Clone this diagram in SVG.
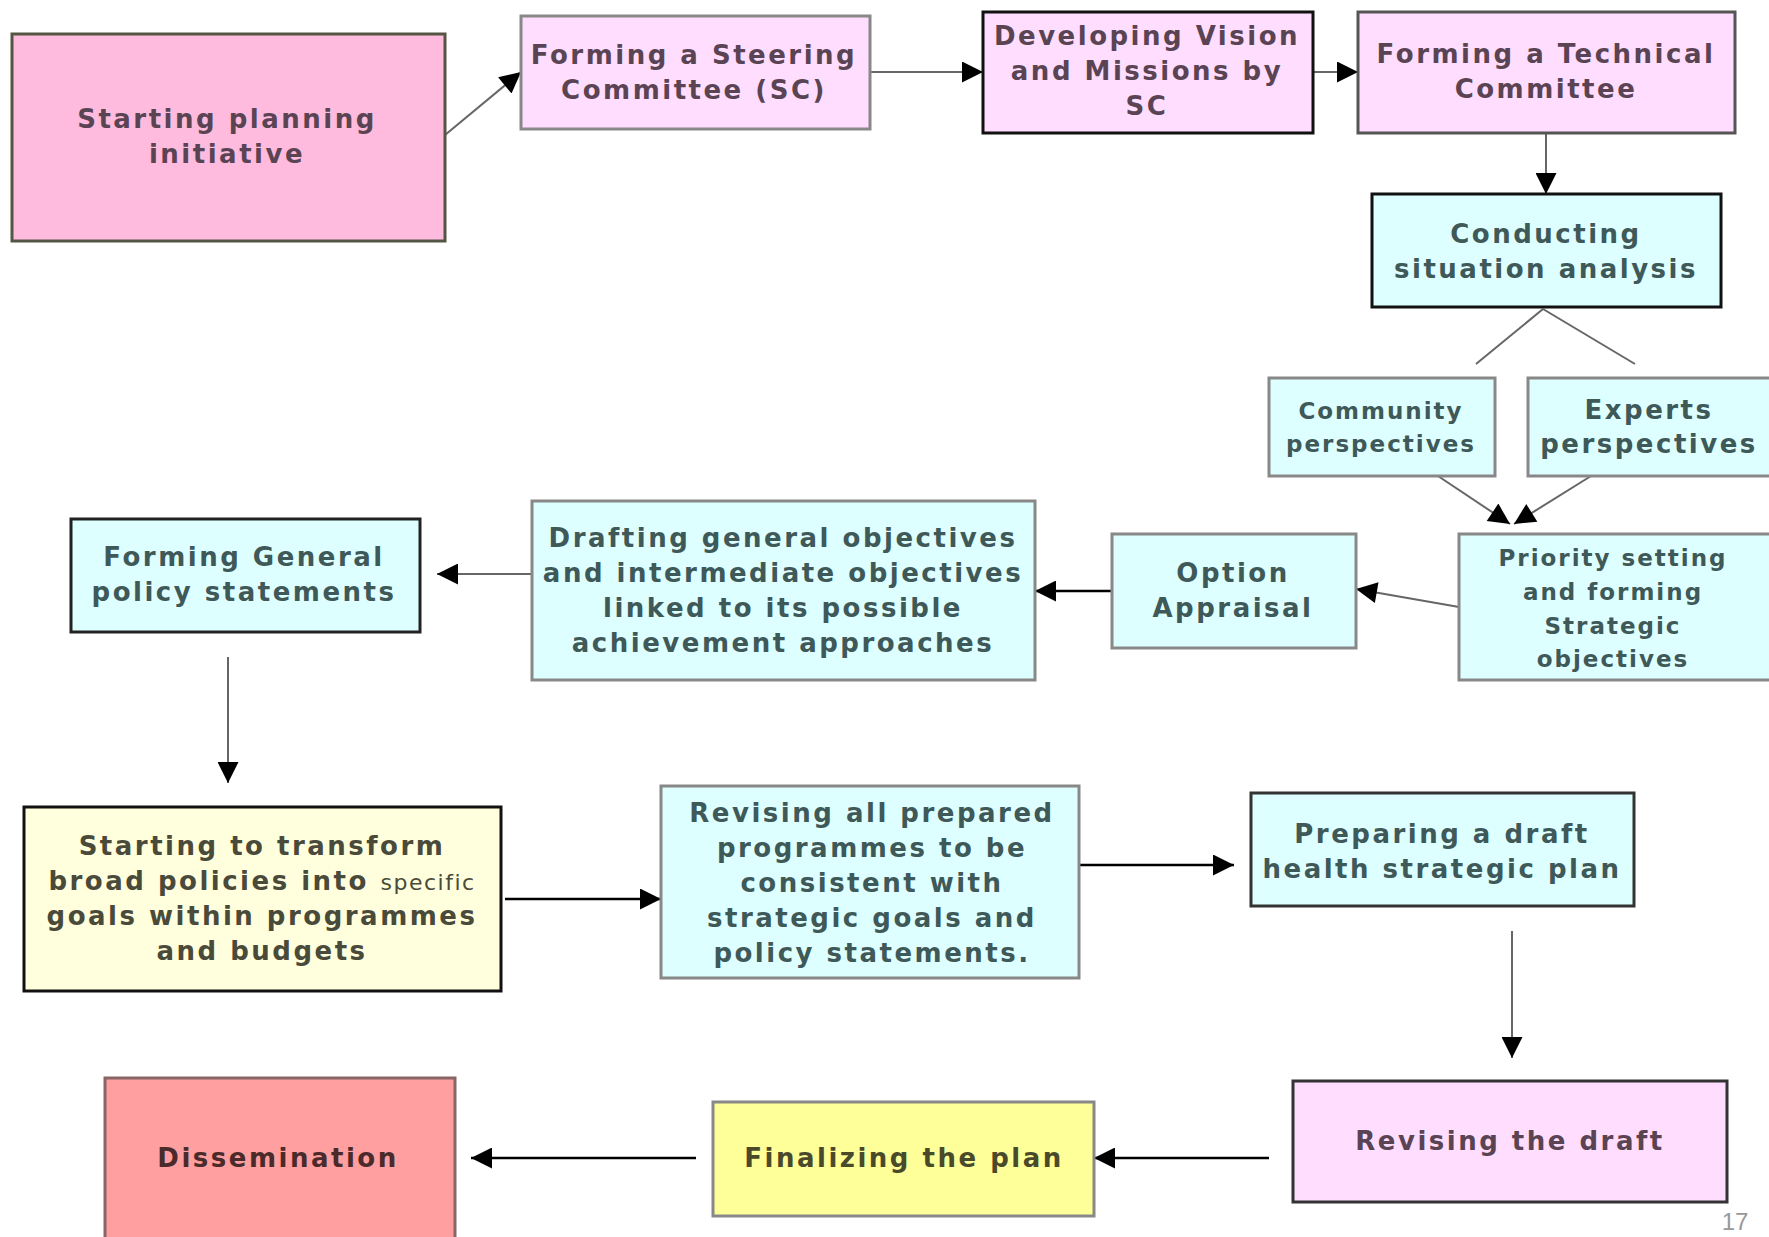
<svg xmlns="http://www.w3.org/2000/svg" width="1769" height="1237" viewBox="0 0 1769 1237">
<defs>
<marker id="ah" viewBox="0 0 10 10" refX="10" refY="5" markerWidth="26" markerHeight="21" markerUnits="userSpaceOnUse" orient="auto">
<path d="M0,0 L10,5 L0,10 z" fill="#000"/>
</marker>
<style>
.t{font-family:"DejaVu Sans",Verdana,sans-serif;font-weight:bold;font-size:26px;text-anchor:middle;fill:#555;letter-spacing:2.5px}
.pk{fill:#ffbbdd}
.lp{fill:#ffddff}
.cy{fill:#ddffff}
.ly{fill:#ffffdd}
.yl{fill:#ffff99}
.rd{fill:#ff9f9f}
.b{stroke:#111;stroke-width:3}
.g{stroke:#888;stroke-width:3}
.c{fill:none;stroke:#666;stroke-width:2}
.k{fill:none;stroke:#000;stroke-width:2.5}
</style>
</defs>
<rect width="1769" height="1237" fill="#fff"/>
<g id="connectors">
<line class="c" x1="445" y1="135" x2="521" y2="72" marker-end="url(#ah)"/>
<line class="c" x1="870" y1="72" x2="983" y2="72" marker-end="url(#ah)"/>
<line class="c" x1="1313" y1="72" x2="1358" y2="72" marker-end="url(#ah)"/>
<line class="c" x1="1546" y1="133" x2="1546" y2="194" marker-end="url(#ah)"/>
<line class="c" x1="1543" y1="309" x2="1476" y2="364"/>
<line class="c" x1="1543" y1="309" x2="1635" y2="364"/>
<line class="c" x1="1438" y1="476" x2="1510" y2="524" marker-end="url(#ah)"/>
<line class="c" x1="1591" y1="476" x2="1514" y2="524" marker-end="url(#ah)"/>
<line class="c" x1="1459" y1="607" x2="1356" y2="589" marker-end="url(#ah)"/>
<line class="k" x1="1139" y1="591" x2="1035" y2="591" marker-end="url(#ah)"/>
<line class="c" x1="536" y1="574" x2="437" y2="574" marker-end="url(#ah)"/>
<line class="c" x1="228" y1="657" x2="228" y2="783" marker-end="url(#ah)"/>
<line class="k" x1="505" y1="899" x2="661" y2="899" marker-end="url(#ah)"/>
<line class="k" x1="1079" y1="865" x2="1234" y2="865" marker-end="url(#ah)"/>
<line class="c" x1="1512" y1="931" x2="1512" y2="1058" marker-end="url(#ah)"/>
<line class="k" x1="1269" y1="1158" x2="1094" y2="1158" marker-end="url(#ah)"/>
<line class="k" x1="696" y1="1158" x2="471" y2="1158" marker-end="url(#ah)"/>
</g>
<g id="n1"><rect class="pk b" x="12" y="34" width="433" height="207" style="stroke:#554"/><text class="t" x="227" y="128" style="fill:#5a4454">Starting planning<tspan x="227" dy="35">initiative</tspan></text></g>
<g id="n2"><rect class="lp g" x="521" y="16" width="349" height="113"/><text class="t" x="694" y="64" style="fill:#5a4454">Forming a Steering<tspan x="694" dy="35">Committee (SC)</tspan></text></g>
<g id="n3"><rect class="lp b" x="983" y="12" width="330" height="121"/><text class="t" x="1147" y="45" style="fill:#5a4454">Developing Vision<tspan x="1147" dy="35">and Missions by</tspan><tspan x="1147" dy="35">SC</tspan></text></g>
<g id="n4"><rect class="lp g" x="1358" y="12" width="377" height="121" style="stroke:#555"/><text class="t" x="1546" y="63" style="fill:#5a4454">Forming a Technical<tspan x="1546" dy="35">Committee</tspan></text></g>
<g id="n5"><rect class="cy b" x="1372" y="194" width="349" height="113"/><text class="t" x="1546" y="243" style="fill:#3f5858">Conducting<tspan x="1546" dy="35">situation analysis</tspan></text></g>
<g id="n6"><rect class="cy g" x="1269" y="378" width="226" height="98"/><text class="t" x="1381" y="419" style="fill:#3f5858;font-size:23px;letter-spacing:2px">Community<tspan x="1381" dy="33">perspectives</tspan></text></g>
<g id="n7"><rect class="cy g" x="1528" y="378" width="250" height="98"/><text class="t" x="1649" y="419" style="fill:#3f5858">Experts<tspan x="1649" dy="34">perspectives</tspan></text></g>
<g id="n8"><rect class="cy g" x="1459" y="534" width="320" height="146"/><text class="t" x="1613" y="566" style="fill:#3f5858;font-size:23px;letter-spacing:2px">Priority setting<tspan x="1613" dy="34">and forming</tspan><tspan x="1613" dy="34">Strategic</tspan><tspan x="1613" dy="33">objectives</tspan></text></g>
<g id="n9"><rect class="cy g" x="1112" y="534" width="244" height="114"/><text class="t" x="1233" y="582" style="fill:#3f5858">Option<tspan x="1233" dy="35">Appraisal</tspan></text></g>
<g id="n10"><rect class="cy g" x="532" y="501" width="503" height="179"/><text class="t" x="783" y="547" style="fill:#3f5858">Drafting general objectives<tspan x="783" dy="35">and intermediate objectives</tspan><tspan x="783" dy="35">linked to its possible</tspan><tspan x="783" dy="35">achievement approaches</tspan></text></g>
<g id="n11"><rect class="cy b" x="71" y="519" width="349" height="113" style="stroke:#222"/><text class="t" x="244" y="566" style="fill:#3f5858">Forming General<tspan x="244" dy="35">policy statements</tspan></text></g>
<g id="n12"><rect class="ly b" x="24" y="807" width="477" height="184"/><text class="t" x="262" y="855" style="fill:#4a4a3a">Starting to transform<tspan x="262" dy="35">broad policies into <tspan style="font-size:22px;font-weight:normal;letter-spacing:1.5px">specific</tspan></tspan><tspan x="262" dy="35">goals within programmes</tspan><tspan x="262" dy="35">and budgets</tspan></text></g>
<g id="n13"><rect class="cy g" x="661" y="786" width="418" height="192"/><text class="t" x="872" y="822" style="fill:#3f5858">Revising all prepared<tspan x="872" dy="35">programmes to be</tspan><tspan x="872" dy="35">consistent with</tspan><tspan x="872" dy="35">strategic goals and</tspan><tspan x="872" dy="35">policy statements.</tspan></text></g>
<g id="n14"><rect class="cy b" x="1251" y="793" width="383" height="113" style="stroke:#333"/><text class="t" x="1442" y="843" style="fill:#3f5858">Preparing a draft<tspan x="1442" dy="35">health strategic plan</tspan></text></g>
<g id="n15"><rect class="lp b" x="1293" y="1081" width="434" height="121" style="stroke:#333"/><text class="t" x="1510" y="1150" style="fill:#5a4454">Revising the draft</text></g>
<g id="n16"><rect class="yl g" x="713" y="1102" width="381" height="114"/><text class="t" x="904" y="1167" style="fill:#4a4a2a">Finalizing the plan</text></g>
<g id="n17"><rect class="rd g" x="105" y="1078" width="350" height="170" style="stroke:#866"/><text class="t" x="278" y="1167" style="fill:#4a2a2a">Dissemination</text></g>
<text x="1735" y="1230" style="font-family:'Liberation Sans',Arial,sans-serif;font-size:24px;fill:#999;text-anchor:middle">17</text>
</svg>
